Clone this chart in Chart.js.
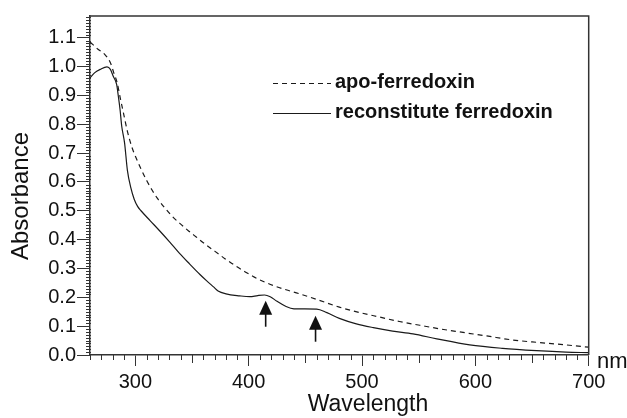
<!DOCTYPE html>
<html>
<head>
<meta charset="utf-8">
<script src="https://cdn.jsdelivr.net/npm/chart.js@4.4.0/dist/chart.umd.min.js"></script>
<style>
html, body { margin: 0; padding: 0; background: #fff; }
</style>
</head>
<body>
<canvas id="uvChart" width="627" height="418"></canvas>
<script>
// apo-ferredoxin (dashed)
var apoWavelength = [260, 267, 273, 278, 281, 284, 287, 290, 293, 297, 301, 305, 310, 315, 320, 326, 332, 339, 347, 354, 362, 370, 379, 388, 397, 405, 414, 423, 433, 444, 462, 480, 498, 516, 533, 551, 568, 586, 610, 633, 657, 680, 700];
var apoAbs = [1.085, 1.06, 1.042, 1.013, 0.978, 0.943, 0.885, 0.83, 0.775, 0.72, 0.68, 0.645, 0.605, 0.57, 0.54, 0.51, 0.483, 0.457, 0.43, 0.408, 0.383, 0.36, 0.334, 0.31, 0.288, 0.27, 0.253, 0.239, 0.226, 0.213, 0.19, 0.166, 0.147, 0.131, 0.116, 0.103, 0.091, 0.08, 0.066, 0.052, 0.043, 0.035, 0.027];

// reconstitute ferredoxin (solid)
var recWavelength = [260, 264, 269, 275, 278, 280.5, 283.5, 285, 286.5, 288, 290.5, 293, 296, 299, 302, 305, 313, 322, 330, 339, 348, 357, 363, 369, 373, 380, 392, 401, 408, 414, 419, 425, 433, 440, 460, 469, 480, 495, 510, 527, 545, 566, 595, 624, 654, 680, 700];
var recAbs = [0.96, 0.978, 0.99, 0.999, 0.99, 0.966, 0.938, 0.897, 0.851, 0.793, 0.735, 0.64, 0.58, 0.54, 0.515, 0.5, 0.466, 0.428, 0.393, 0.352, 0.315, 0.279, 0.257, 0.236, 0.222, 0.212, 0.205, 0.202, 0.206, 0.208, 0.202, 0.186, 0.168, 0.16, 0.159, 0.147, 0.127, 0.108, 0.095, 0.083, 0.073, 0.056, 0.035, 0.023, 0.015, 0.01, 0.008];

// arrows marking the two shoulders
var arrowX = [415, 459];
var arrowTip = [0.185, 0.133];
var arrowTail = [0.098, 0.046];

var xTicks = [300, 400, 500, 600, 700];
var yTicks = [0.0, 0.1, 0.2, 0.3, 0.4, 0.5, 0.6, 0.7, 0.8, 0.9, 1.0, 1.1];

var axisColor = '#333';
var lineColor = '#1a1a1a';
var fontFamily = "'Liberation Sans', Arial, sans-serif";

function toPoints(xs, ys) {
    return xs.map(function (x, i) { return { x: x, y: ys[i] }; });
}

// minor ticks, frame, axis titles, legend and arrows
var extras = {
    id: 'extras',
    afterDraw: function (chart) {
        var ctx = chart.ctx;
        var a = chart.chartArea;
        var xs = chart.scales.x;
        var ys = chart.scales.y;
        ctx.save();

        // top and right frame
        ctx.strokeStyle = axisColor;
        ctx.lineWidth = 1.5;
        ctx.beginPath();
        ctx.moveTo(a.left, a.top);
        ctx.lineTo(a.right, a.top);
        ctx.lineTo(a.right, a.bottom);
        ctx.stroke();

        // minor ticks
        ctx.lineWidth = 1;
        ctx.beginPath();
        for (var i = 1; i <= 117; i++) {
            if (i % 10 === 0) continue;
            var py = Math.round(ys.getPixelForValue(i / 100)) + 0.5;
            ctx.moveTo(a.left - 4, py);
            ctx.lineTo(a.left + 1, py);
        }
        for (var w = 260; w < 700; w += 10) {
            if (w % 100 === 0) continue;
            var px = Math.round(xs.getPixelForValue(w)) + 0.5;
            ctx.moveTo(px, a.bottom);
            ctx.lineTo(px, a.bottom + (w % 50 === 0 ? 8 : 5));
        }
        ctx.stroke();

        // axis titles
        ctx.fillStyle = '#111';
        ctx.font = '23px ' + fontFamily;
        ctx.textAlign = 'center';
        ctx.textBaseline = 'alphabetic';
        ctx.fillText('Wavelength', 368, 411);
        ctx.font = '22px ' + fontFamily;
        ctx.textAlign = 'left';
        ctx.fillText('nm', 597, 368);
        ctx.save();
        ctx.translate(28, 196);
        ctx.rotate(-Math.PI / 2);
        ctx.font = '24px ' + fontFamily;
        ctx.textAlign = 'center';
        ctx.fillText('Absorbance', 0, 0);
        ctx.restore();

        // legend
        var legendY = [83, 113];
        ctx.font = 'bold 20px ' + fontFamily;
        ctx.textAlign = 'left';
        ctx.textBaseline = 'middle';
        chart.data.datasets.forEach(function (ds, k) {
            ctx.strokeStyle = lineColor;
            ctx.lineWidth = 1.2;
            ctx.setLineDash(ds.borderDash || []);
            ctx.beginPath();
            ctx.moveTo(273, legendY[k] + 0.5);
            ctx.lineTo(331, legendY[k] + 0.5);
            ctx.stroke();
            ctx.setLineDash([]);
            ctx.fillText(ds.label, 335, legendY[k] - 1);
        });

        // arrows
        ctx.strokeStyle = '#111';
        ctx.fillStyle = '#111';
        ctx.lineWidth = 1.6;
        for (var j = 0; j < arrowX.length; j++) {
            var ax = xs.getPixelForValue(arrowX[j]);
            var tip = ys.getPixelForValue(arrowTip[j]);
            var tail = ys.getPixelForValue(arrowTail[j]);
            ctx.beginPath();
            ctx.moveTo(ax, tail);
            ctx.lineTo(ax, tip + 10);
            ctx.stroke();
            ctx.beginPath();
            ctx.moveTo(ax, tip - 1);
            ctx.lineTo(ax - 6.5, tip + 13);
            ctx.lineTo(ax + 6.5, tip + 13);
            ctx.closePath();
            ctx.fill();
        }
        ctx.restore();
    }
};

var ctxUv = document.getElementById('uvChart').getContext('2d');
var uvChart = new Chart(ctxUv, {
    type: 'line',
    data: {
        datasets: [{
            label: 'apo-ferredoxin',
            data: toPoints(apoWavelength, apoAbs),
            borderColor: lineColor,
            borderWidth: 1.2,
            borderDash: [5, 4],
            pointRadius: 0,
            cubicInterpolationMode: 'monotone',
            fill: false
        }, {
            label: 'reconstitute ferredoxin',
            data: toPoints(recWavelength, recAbs),
            borderColor: lineColor,
            borderWidth: 1.2,
            pointRadius: 0,
            cubicInterpolationMode: 'monotone',
            fill: false
        }]
    },
    options: {
        responsive: false,
        animation: false,
        devicePixelRatio: 1,
        layout: { padding: { left: 0, top: 16, right: 38.3, bottom: 0 } },
        plugins: {
            legend: { display: false },
            tooltip: { enabled: false }
        },
        scales: {
            x: {
                type: 'linear',
                min: 260,
                max: 700,
                afterBuildTicks: function (s) { s.ticks = xTicks.map(function (v) { return { value: v }; }); },
                afterFit: function (s) { s.height = 63; },
                grid: { display: true, drawOnChartArea: false, drawTicks: true, tickLength: 11, color: axisColor, tickWidth: 1 },
                border: { display: true, color: axisColor, width: 1.5 },
                ticks: { color: '#111', font: { size: 20, family: fontFamily }, padding: 4, maxRotation: 0 }
            },
            y: {
                type: 'linear',
                min: 0,
                max: 1.175,
                afterBuildTicks: function (s) { s.ticks = yTicks.map(function (v) { return { value: v }; }); },
                afterFit: function (s) { s.width = 90; },
                grid: { display: true, drawOnChartArea: false, drawTicks: true, tickLength: 13, color: axisColor, tickWidth: 1 },
                border: { display: true, color: axisColor, width: 1.5 },
                ticks: {
                    color: '#111',
                    font: { size: 20, family: fontFamily },
                    padding: 1,
                    callback: function (v) { return v.toFixed(1); }
                }
            }
        }
    },
    plugins: [extras]
});
</script>
</body>
</html>
